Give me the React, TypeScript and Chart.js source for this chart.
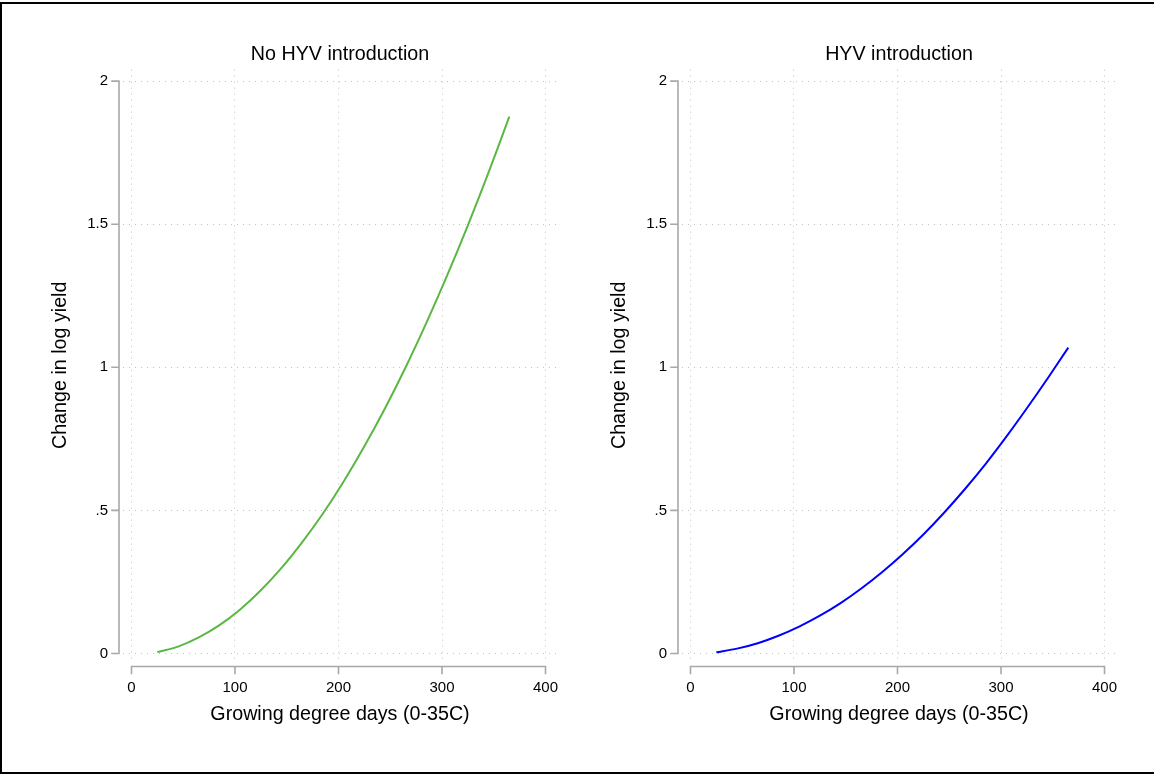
import React, { useEffect, useRef } from "react";
import { Chart, registerables } from "chart.js";

Chart.register(...registerables);

// ---- data ----
const gddValues = [25, 45, 65, 85, 105, 125, 145, 165, 185, 205, 225, 245, 265, 285, 305, 325, 345, 365];
const noHyvChange = [0.005, 0.024, 0.056, 0.099, 0.154, 0.221, 0.299, 0.389, 0.489, 0.601, 0.724, 0.857, 1.001, 1.156, 1.321, 1.496, 1.681, 1.876];
const hyvChange = [0.004, 0.017, 0.036, 0.062, 0.094, 0.132, 0.176, 0.227, 0.284, 0.347, 0.416, 0.492, 0.574, 0.662, 0.757, 0.857, 0.961, 1.069];
const xTickValues = [0, 100, 200, 300, 400];
const xTickLabels = ["0", "100", "200", "300", "400"];
const yTickValues = [0, 0.5, 1, 1.5, 2];
const yTickLabels = ["0", ".5", "1", "1.5", "2"];
const panelTitles = ["No HYV introduction", "HYV introduction"];
const xAxisTitle = "Growing degree days (0-35C)";
const yAxisTitle = "Change in log yield";

const FONT = "'Liberation Sans', Arial, Helvetica, sans-serif";
const AXIS_COLOR = "#a8a8a8";
const GRID_COLOR = "#c2c2c2";

const stataAxes = {
  id: "stataAxes",
  afterDraw(chart: any) {
    const { ctx, chartArea, scales } = chart;
    const xs = scales.x;
    const ys = scales.y;
    ctx.save();
    ctx.strokeStyle = AXIS_COLOR;
    ctx.lineWidth = 1.6;
    ctx.lineCap = "square";
    // y axis
    const ax = chartArea.left - 4;
    ctx.beginPath();
    ctx.moveTo(ax, ys.getPixelForValue(yTickValues[0]));
    ctx.lineTo(ax, ys.getPixelForValue(yTickValues[yTickValues.length - 1]));
    yTickValues.forEach((v) => {
      const p = ys.getPixelForValue(v);
      ctx.moveTo(ax, p);
      ctx.lineTo(ax - 7, p);
    });
    // x axis
    const ay = chartArea.bottom + 5.5;
    ctx.moveTo(xs.getPixelForValue(xTickValues[0]), ay);
    ctx.lineTo(xs.getPixelForValue(xTickValues[xTickValues.length - 1]), ay);
    xTickValues.forEach((v) => {
      const p = xs.getPixelForValue(v);
      ctx.moveTo(p, ay);
      ctx.lineTo(p, ay + 7);
    });
    ctx.stroke();
    ctx.restore();
  },
};

function Panel(props: { left: number; width: number; title: string; values: number[]; color: string }) {
  const ref = useRef<HTMLCanvasElement>(null);
  const { left, width, title, values, color } = props;
  useEffect(() => {
    const titleFont = { family: FONT, size: 19.7, weight: "normal" as const };
    const tickFont = { family: FONT, size: 15 };
    const chart = new Chart(ref.current as HTMLCanvasElement, {
      type: "line",
      data: {
        datasets: [
          {
            data: gddValues.map((x, i) => ({ x, y: values[i] })),
            borderColor: color,
            backgroundColor: color,
            borderWidth: 2,
            pointRadius: 0,
            fill: false,
            tension: 0.3,
            cubicInterpolationMode: "default",
          },
        ],
      },
      options: {
        responsive: false,
        maintainAspectRatio: false,
        animation: false,
        events: [],
        layout: { padding: { left: 0, top: 0, right: width - 557, bottom: 0 } },
        plugins: {
          legend: { display: false },
          tooltip: { enabled: false },
          title: {
            display: true,
            text: title,
            color: "#000",
            font: titleFont,
            fullSize: false,
            padding: { top: 43, bottom: 3 },
          },
        },
        scales: {
          x: {
            type: "linear",
            min: -8.2,
            max: 411.1,
            afterBuildTicks: (s: any) => {
              s.ticks = xTickValues.map((v) => ({ value: v }));
            },
            afterFit: (s: any) => {
              s.height = 113;
            },
            grid: { color: GRID_COLOR, lineWidth: 1, drawTicks: false },
            border: { display: false, dash: [1, 5] },
            ticks: {
              padding: 18,
              color: "#000",
              font: tickFont,
              autoSkip: false,
              maxRotation: 0,
              callback: (v: any) => xTickLabels[xTickValues.indexOf(Number(v))],
            },
            title: {
              display: true,
              text: xAxisTitle,
              color: "#000",
              font: titleFont,
              padding: { top: 0, bottom: 48 },
            },
          },
          y: {
            type: "linear",
            min: -0.0262,
            max: 2.0402,
            afterBuildTicks: (s: any) => {
              s.ticks = yTickValues.map((v) => ({ value: v }));
            },
            afterFit: (s: any) => {
              s.width = 123;
            },
            grid: { color: GRID_COLOR, lineWidth: 1, drawTicks: false },
            border: { display: false, dash: [1, 5] },
            ticks: {
              padding: 15,
              color: "#000",
              font: tickFont,
              autoSkip: false,
              callback: (v: any) => yTickLabels[yTickValues.indexOf(Number(v))],
            },
            title: {
              display: true,
              text: yAxisTitle,
              color: "#000",
              font: titleFont,
              padding: { top: 49, bottom: 0 },
            },
          },
        },
      } as any,
      plugins: [stataAxes],
    });
    return () => chart.destroy();
  }, []);
  return (
    <canvas
      ref={ref}
      width={width}
      height={774}
      style={{ position: "absolute", left, top: 0, width, height: 774, display: "block" }}
    />
  );
}

export default function App() {
  return (
    <div style={{ position: "absolute", left: 0, top: 0, width: 1154, height: 774, background: "#fff", overflow: "hidden" }}>
      <Panel left={0} width={600} title={panelTitles[0]} values={noHyvChange} color="#5bb744" />
      <Panel left={559} width={595} title={panelTitles[1]} values={hyvChange} color="#0000ff" />
      <div
        style={{
          position: "absolute",
          left: 0,
          top: 2,
          width: 1154,
          height: 772,
          boxSizing: "border-box",
          borderTop: "2px solid #000",
          borderLeft: "2px solid #000",
          borderBottom: "2px solid #000",
          pointerEvents: "none",
        }}
      />
    </div>
  );
}
